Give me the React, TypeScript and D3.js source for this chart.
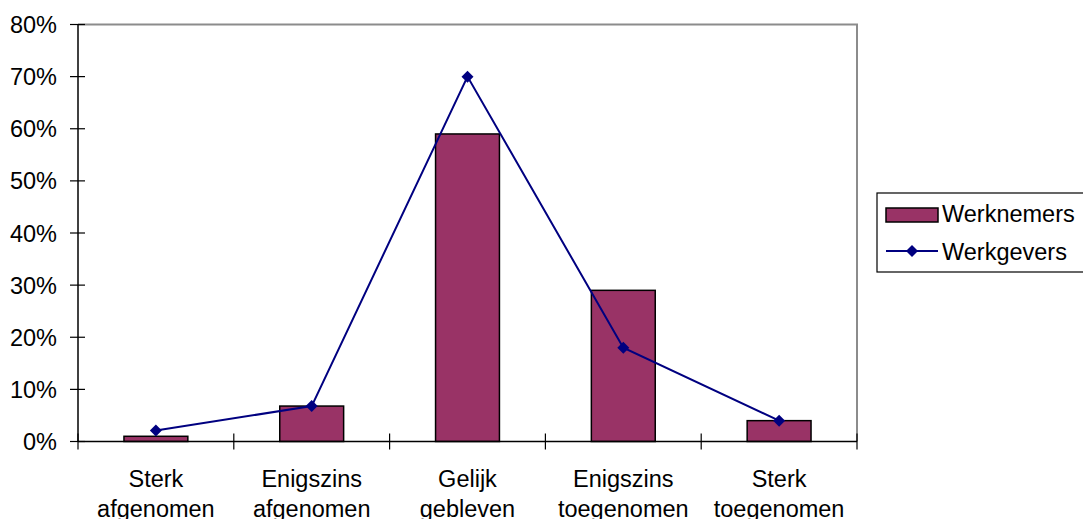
import React from "react";
import * as d3 from "d3";

const categories = [
  ["Sterk", "afgenomen"],
  ["Enigszins", "afgenomen"],
  ["Gelijk", "gebleven"],
  ["Enigszins", "toegenomen"],
  ["Sterk", "toegenomen"],
];
const werknemers = [0.01, 0.068, 0.59, 0.29, 0.04];
const werkgevers = [0.021, 0.068, 0.70, 0.18, 0.04];
const yTicks = [0, 0.1, 0.2, 0.3, 0.4, 0.5, 0.6, 0.7, 0.8];

const W = 1083;
const H = 519;
const left = 78;
const right = 857;
const top = 24.5;
const bottom = 441.5;
const FONT = "'Liberation Sans', Arial, sans-serif";
const FS = 23.5;
const BAR = "#993366";
const LINE = "#000080";

export default function App() {
  const keys = categories.map((c) => c.join(" "));
  const x = d3.scaleBand<string>().domain(keys).range([left, right]).paddingInner(0.59).paddingOuter(0.295);
  const xStep = d3.scaleBand<string>().domain(keys).range([left, right]).padding(0);
  const y = d3.scaleLinear().domain([0, 0.8]).range([bottom, top]);
  const fmt = d3.format(".0%");

  const line = d3
    .line<number>()
    .x((_, i) => (x(keys[i]) as number) + x.bandwidth() / 2)
    .y((d) => y(d));

  const diamond = (cx: number, cy: number, r = 6) =>
    `M${cx},${cy - r}L${cx + r},${cy}L${cx},${cy + r}L${cx - r},${cy}Z`;

  const boundaries = keys.map((k) => xStep(k) as number).concat([right]);

  return (
    <svg
      width={W}
      height={H}
      style={{ position: "absolute", left: 0, top: 0, background: "#fff" }}
      fontFamily={FONT}
    >
      <rect x={0} y={0} width={W} height={H} fill="#fff" />
      {/* plot frame: grey top and right edges */}
      <path d={`M${left},${top}H${right}V${bottom}`} fill="none" stroke="#8c8c8c" strokeWidth={2} />

      {/* bars */}
      {werknemers.map((v, i) => (
        <rect
          key={i}
          x={x(keys[i])}
          y={y(v)}
          width={x.bandwidth()}
          height={bottom - y(v)}
          fill={BAR}
          stroke="#000"
          strokeWidth={1.5}
        />
      ))}

      {/* axes */}
      <line x1={left} x2={left} y1={top} y2={bottom} stroke="#000" strokeWidth={1.5} />
      <line x1={left} x2={right} y1={bottom} y2={bottom} stroke="#000" strokeWidth={1.5} />
      {yTicks.map((t) => (
        <g key={t}>
          <line x1={left - 8} x2={left + 7} y1={y(t)} y2={y(t)} stroke="#000" strokeWidth={1.2} />
          <text x={57} y={y(t) + 8.5} textAnchor="end" fontSize={FS} fill="#000">
            {fmt(t)}
          </text>
        </g>
      ))}
      {boundaries.map((bx, i) => (
        <line key={i} x1={bx} x2={bx} y1={bottom - 8} y2={bottom + 8} stroke="#000" strokeWidth={1.2} />
      ))}
      {categories.map((c, i) => {
        const cx = (x(keys[i]) as number) + x.bandwidth() / 2;
        return (
          <text key={i} x={cx} textAnchor="middle" fontSize={FS} fill="#000">
            <tspan x={cx} y={487}>{c[0]}</tspan>
            <tspan x={cx} y={517}>{c[1]}</tspan>
          </text>
        );
      })}

      {/* werkgevers line */}
      <path d={line(werkgevers) || ""} fill="none" stroke={LINE} strokeWidth={2} />
      {werkgevers.map((v, i) => (
        <path key={i} d={diamond((x(keys[i]) as number) + x.bandwidth() / 2, y(v))} fill={LINE} />
      ))}

      {/* legend */}
      <rect x={877} y={193} width={220} height={79} fill="#fff" stroke="#000" strokeWidth={1.2} />
      <rect x={886} y={208} width={52} height={14} fill={BAR} stroke="#000" strokeWidth={1.5} />
      <text x={942} y={222} fontSize={FS} fill="#000">Werknemers</text>
      <line x1={886} x2={938} y1={251} y2={251} stroke={LINE} strokeWidth={2} />
      <path d={diamond(912, 251)} fill={LINE} />
      <text x={942} y={260} fontSize={FS} fill="#000">Werkgevers</text>
    </svg>
  );
}
